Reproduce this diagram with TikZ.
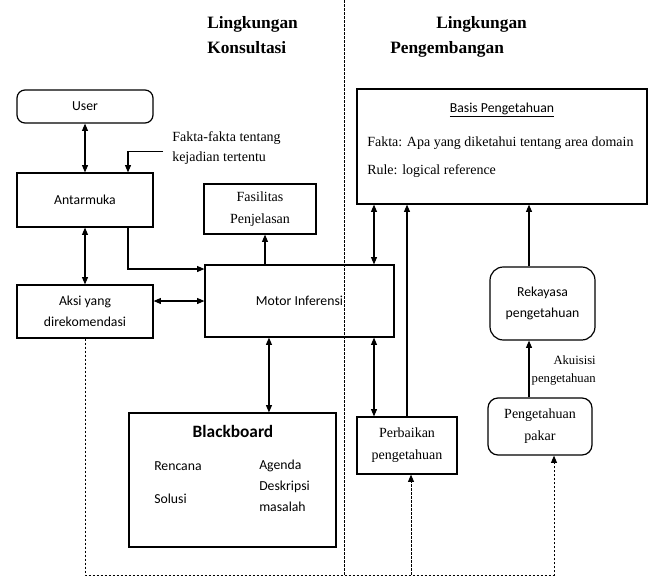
\documentclass[tikz,border=0pt]{standalone}
\usepackage{fontspec}
\setmainfont{Liberation Serif}
\setsansfont{Carlito}
\usetikzlibrary{arrows.meta,positioning}
\tikzset{kotak/.style={rectangle,draw=black,line width=0.9pt,align=center,inner sep=1pt,font=\sffamily\fontsize{10.3}{15.5}\selectfont}}
\tikzset{kotakSerif/.style={kotak,font=\rmfamily\fontsize{10.5}{16.5}\selectfont}}
\tikzset{judul/.style={font=\rmfamily\bfseries\fontsize{13}{18.75}\selectfont,align=left,inner sep=0pt,anchor=north west}}
\tikzset{keterangan/.style={font=\rmfamily\fontsize{10.5}{15}\selectfont,align=left,inner sep=0pt}}
\tikzset{isi/.style={font=\sffamily\fontsize{10.3}{15.75}\selectfont,align=left,inner sep=0pt}}
\tikzset{toArrow/.style={-{Triangle[length=5.5pt,width=4.5pt]},line width=0.8pt}}
\tikzset{biArrow/.style={{Triangle[length=5.5pt,width=4.5pt]}-{Triangle[length=5.5pt,width=4.5pt]},line width=0.8pt}}
\tikzset{putus/.style={line width=0.75pt,dash pattern=on 2pt off 1pt}}

\begin{document}
\begin{tikzpicture}[x=0.75pt,y=-0.75pt]
\useasboundingbox (0,0) rectangle (650,579);
	\coordinate (batasAtas) at (344,0);
	\coordinate (batasBawah) at (344,575);
	\draw[putus] (batasAtas) -- (batasBawah);
	\node (konsultasi) [judul] at (207,16.5) {Lingkungan\\Konsultasi};
	\node (pengembangan) [judul] at (390,16.5) {\hspace*{34.5pt}Lingkungan\\Pengembangan};
	\node (user) [kotak,rounded corners=6pt,minimum width=102pt,minimum height=24.75pt] at (85,106.5) {User};
	\node (ui) [kotak,minimum width=102pt,minimum height=40.5pt] at (85,200) {Antarmuka};
	\node (aksi) [kotak,minimum width=102pt,minimum height=39.75pt] at (85,311.5) {Aksi yang\\direkomendasi};
	\node (kejadian) [keterangan,anchor=north west,inner xsep=6.75pt] at (163,131) {Fakta-fakta tentang\\kejadian tertentu};
	\node (fasilitas) [kotakSerif,minimum width=84pt,minimum height=37.5pt] at (260,209) {Fasilitas\\Penjelasan};
	\node (motor) [kotak,minimum width=141.75pt,minimum height=54pt] at (299.5,301) {Motor Inferensi};
	\node (bb) [kotak,minimum width=155.25pt,minimum height=100.5pt] at (232.5,480) {};
	\node (bbjudul) [font=\sffamily\bfseries\fontsize{13}{15}\selectfont,anchor=base,inner sep=0pt] at (233,437) {Blackboard};
	\node (rencana) [isi,anchor=base west] at (154,470) {Rencana};
	\node (solusi) [isi,anchor=base west] at (154,503) {Solusi};
	\node (agenda) [isi,anchor=north west] at (259,460) {Agenda\\Deskripsi\\masalah};
	\node (basis) [kotak,minimum width=217.5pt,minimum height=86.25pt] at (502,146.5) {};
	\node (basisjudul) [font=\sffamily\fontsize{10.3}{12}\selectfont,anchor=base,inner sep=0pt] at (502,112) {\underline{Basis Pengetahuan}};
	\node (fakta) [keterangan,anchor=base west] at (367,146) {Fakta: Apa yang diketahui tentang area domain};
	\node (rule) [keterangan,anchor=base west] at (367,174) {Rule: logical reference};
	\node (perbaikan) [kotakSerif,minimum width=75pt,minimum height=42.75pt] at (407,445.5) {Perbaikan\\pengetahuan};
	\node (rekayasa) [kotak,rounded corners=10pt,minimum width=78.75pt,minimum height=54.75pt] at (542.5,303.5) {Rekayasa\\pengetahuan};
	\node (pakar) [kotakSerif,rounded corners=7.5pt,minimum width=78pt,minimum height=42.75pt] at (540,426.5) {Pengetahuan\\pakar};
	\node (akuisisi) [keterangan,font=\rmfamily\fontsize{9.5}{13.5}\selectfont,align=right,anchor=north east] at (596,355) {Akuisisi\\pengetahuan};
	\coordinate (kolomA) at (374,0);
	\coordinate (kolomB) at (529,0);
	\coordinate (sudutKanan) at (554,575);
	\coordinate (cabang) at (411,575);
	\draw[biArrow] (user) -- (ui);
	\draw[toArrow] ([yshift=-3pt]kejadian.west) -| ([xshift=32.25pt]ui.north);
	\draw[biArrow] (ui) -- (aksi);
	\draw[toArrow] ([xshift=32.25pt]ui.south) |- ([yshift=24pt]motor.west);
	\draw[biArrow] (aksi.east |- motor.west) -- (motor.west);
	\draw[toArrow] ([xshift=3.75pt]fasilitas.south |- motor.north) -- ([xshift=3.75pt]fasilitas.south);
	\draw[biArrow] ([xshift=-22.9pt]motor.south) -- ([xshift=-22.9pt]motor.south |- bb.north);
	\draw[biArrow] (basis.south -| kolomA) -- (motor.north -| kolomA);
	\draw[biArrow] (motor.south -| kolomA) -- (perbaikan.north -| kolomA);
	\draw[toArrow] (perbaikan.north) -- (perbaikan.north |- basis.south);
	\draw[toArrow] (rekayasa.north -| kolomB) -- (basis.south -| kolomB);
	\draw[toArrow] (pakar.north -| kolomB) -- (rekayasa.south -| kolomB);
	\draw[toArrow,putus] (aksi.south) |- (sudutKanan) -- (sudutKanan |- pakar.south);
	\draw[toArrow,putus] (cabang) -- (cabang |- perbaikan.south);
\end{tikzpicture}
\end{document}
